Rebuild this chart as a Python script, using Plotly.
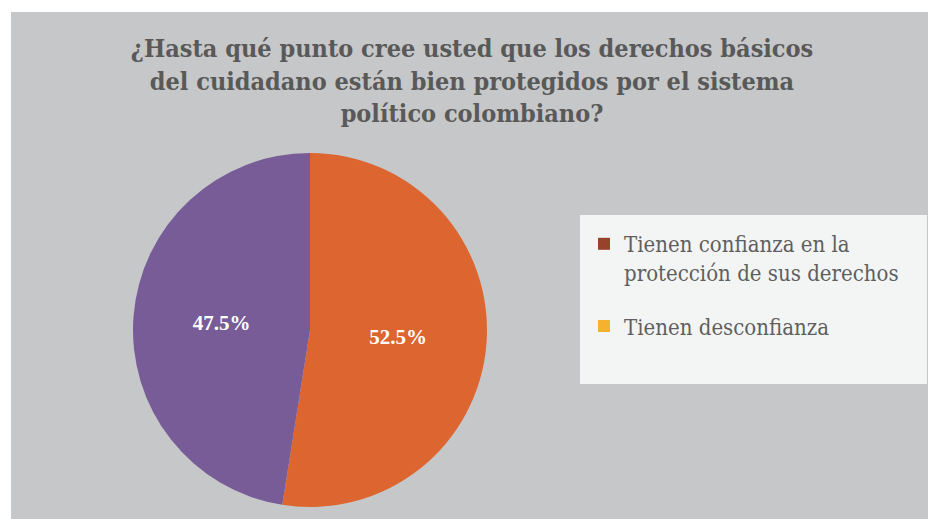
import plotly.graph_objects as go

# Data
slice_labels = ["Tienen desconfianza", "Tienen confianza en la protección de sus derechos"]
slice_values = [52.5, 47.5]
slice_colors = ["#dc6530", "#785c98"]

legend_labels = ["Tienen confianza en la<br>protección de sus derechos", "Tienen desconfianza"]
legend_colors = ["#96432a", "#f5b22e"]

title_text = ("<b>¿Hasta qué punto cree usted que los derechos básicos<br>"
              "del cuidadano están bien protegidos por el sistema<br>"
              "político colombiano?</b>")

W, H = 928, 519
SERIF = "'Liberation Serif', 'DejaVu Serif', serif"
COND = "'DejaVu Serif Condensed', 'Liberation Serif', serif"

def px(x):
    return x / W

def py(y):
    return 1 - y / H

fig = go.Figure()

fig.add_trace(go.Pie(
    labels=slice_labels,
    values=slice_values,
    marker=dict(colors=slice_colors, line=dict(width=0)),
    sort=False,
    direction="clockwise",
    rotation=0,
    textinfo="percent",
    texttemplate="<b>%{percent:.1%}</b>",
    textposition="inside",
    insidetextorientation="horizontal",
    textfont=dict(family=SERIF, size=21, color="white"),
    showlegend=False,
    hoverinfo="label+percent",
    domain=dict(x=[px(133), px(487)], y=[py(507), py(153)]),
))

for name, col in zip(legend_labels, legend_colors):
    fig.add_trace(go.Scatter(
        x=[None], y=[None], mode="markers", name=name,
        marker=dict(symbol="square", size=13, color=col),
        showlegend=True, legendgroup=name,
    ))

fig.update_layout(
    width=W, height=H,
    margin=dict(l=0, r=0, t=0, b=0),
    paper_bgcolor="white",
    plot_bgcolor="rgba(0,0,0,0)",
    xaxis=dict(visible=False),
    yaxis=dict(visible=False),
    title=dict(
        text=title_text,
        x=px(472), xanchor="center",
        y=py(57), yanchor="top",
        font=dict(family=COND, size=25, color="#595959"),
    ),
    legend=dict(
        x=px(584), xanchor="left",
        y=py(223), yanchor="top",
        bgcolor="rgba(0,0,0,0)",
        font=dict(family=COND, size=22, color="#5f5f5f"),
        valign="top",
        tracegroupgap=22,
        itemsizing="constant",
    ),
    shapes=[
        dict(type="rect", xref="paper", yref="paper", layer="below",
             x0=px(11), x1=1, y0=0, y1=py(12),
             fillcolor="#c6c7c8", line=dict(width=0)),
        dict(type="rect", xref="paper", yref="paper", layer="below",
             x0=px(580), x1=px(927), y0=py(384), y1=py(215),
             fillcolor="#f3f5f4", line=dict(width=0)),
    ],
)

fig.write_html("out.html")
